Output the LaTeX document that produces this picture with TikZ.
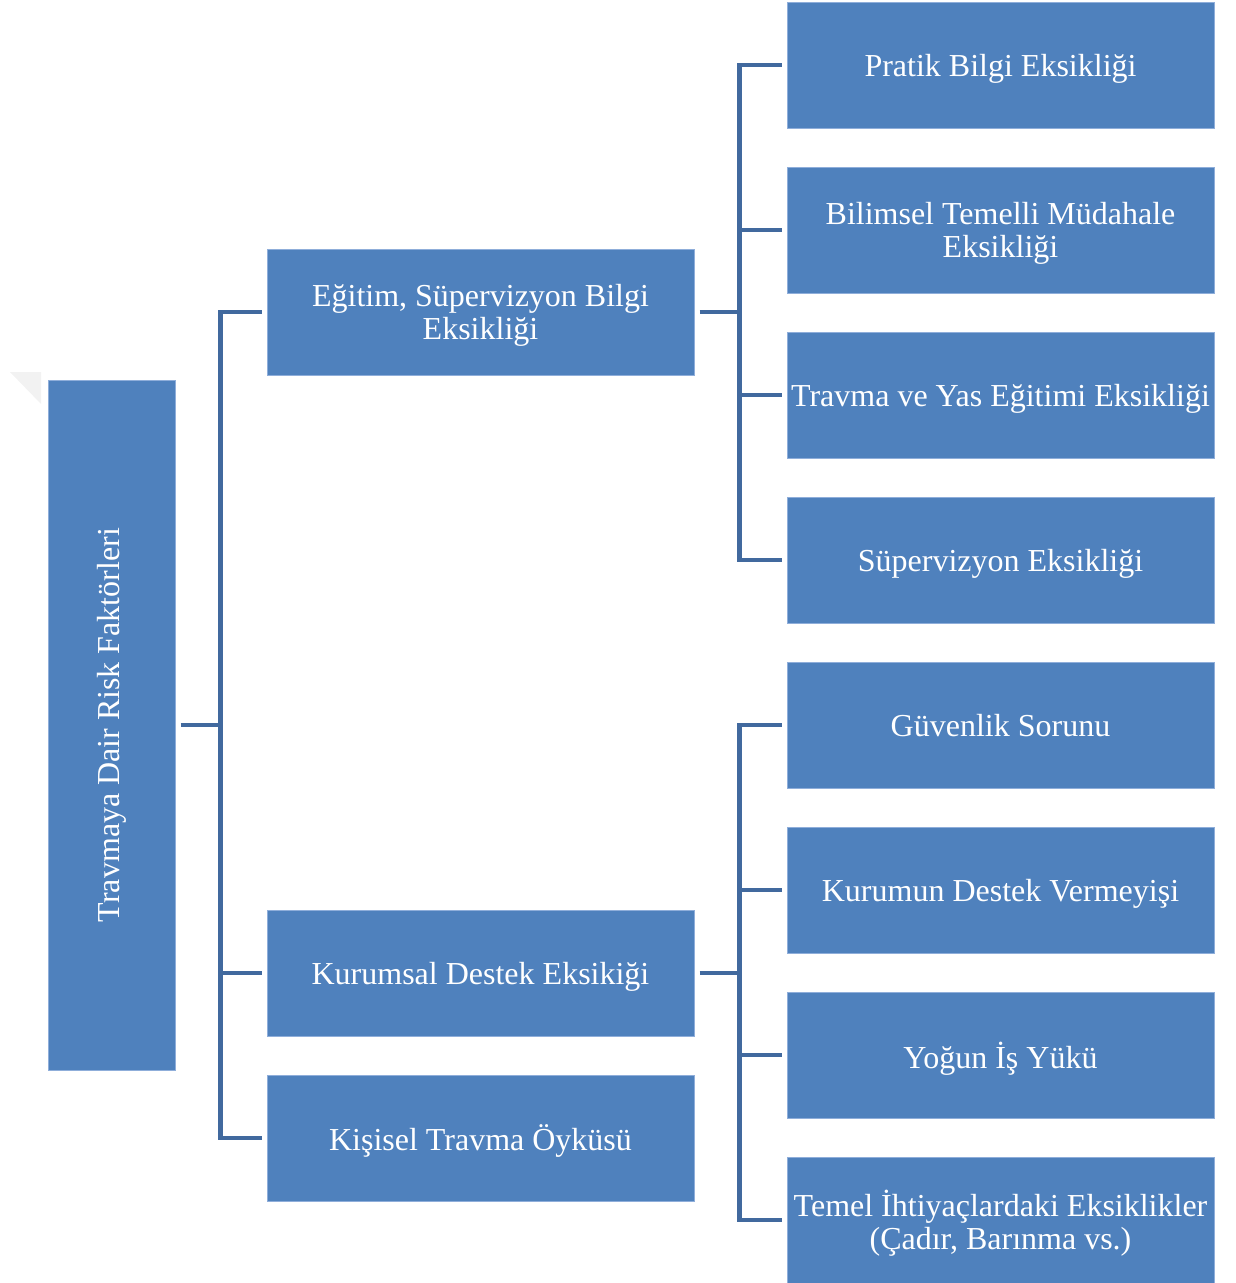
\documentclass[tikz,border=0pt]{standalone}
\usepackage{fontspec}
\setmainfont{Liberation Serif}
\usetikzlibrary{calc}
\definecolor{boxblue}{HTML}{4F81BD}
\definecolor{boxedge}{HTML}{8FAEDA}
\definecolor{linkblue}{HTML}{41699E}
\tikzset{
  box/.style={fill=boxblue, draw=boxedge, line width=1pt, inner sep=0pt, text=white, align=center,
    font=\fontsize{32}{32.5}\selectfont},
  lvone/.style={box, minimum width=427pt, minimum height=126pt, text depth=0pt},
  lvtwo/.style={box, minimum width=427pt, minimum height=126pt, text depth=0pt},
  conn/.style={draw=linkblue, line width=4.5pt, line join=miter}
}
\begin{document}
\begin{tikzpicture}[x=1pt,y=-1pt]
\useasboundingbox (0,0) rectangle (1235,1283);
% faint shadow artifact
\fill[black!5] (10,372) -- (41,372) -- (41,404) -- cycle;

\node[box, minimum width=127pt, minimum height=690pt] (root) at (111.5,725) {\rotatebox{90}{Travmaya Dair Risk Faktörleri}};

\node[lvone] (e1) at (480.5,312) {Eğitim, Süpervizyon Bilgi\\Eksikliği};
\node[lvone] (e2) at (480.5,973) {Kurumsal Destek Eksikiği};
\node[lvone] (e3) at (480.5,1138) {Kişisel Travma Öyküsü};

\node[lvtwo] (a1) at (1000.5,65) {Pratik Bilgi Eksikliği};
\node[lvtwo] (a2) at (1000.5,230) {Bilimsel Temelli Müdahale\\Eksikliği};
\node[lvtwo] (a3) at (1000.5,395) {Travma ve Yas Eğitimi Eksikliği};
\node[lvtwo] (a4) at (1000.5,560) {Süpervizyon Eksikliği};
\node[lvtwo] (b1) at (1000.5,725) {Güvenlik Sorunu};
\node[lvtwo] (b2) at (1000.5,890) {Kurumun Destek Vermeyişi};
\node[lvtwo] (b3) at (1000.5,1055) {Yoğun İş Yükü};
\node[lvtwo] (b4) at (1000.5,1220) {Temel İhtiyaçlardaki Eksiklikler\\(Çadır, Barınma vs.)};

% root connectors
\coordinate (j0) at ($(root.east)+(45,0)$);
\draw[conn] ([xshift=5pt]root.east) -- (j0);
\draw[conn] ([xshift=-5pt]e1.west) -| (j0) |- ([xshift=-5pt]e3.west);
\draw[conn] (j0 |- e2.west) -- ([xshift=-5pt]e2.west);

% group A
\coordinate (ja) at ($(e1.east)+(45,0)$);
\draw[conn] ([xshift=5pt]e1.east) -- (ja);
\draw[conn] ([xshift=-5pt]a1.west) -| (ja) |- ([xshift=-5pt]a4.west);
\draw[conn] (ja |- a2.west) -- ([xshift=-5pt]a2.west);
\draw[conn] (ja |- a3.west) -- ([xshift=-5pt]a3.west);

% group B
\coordinate (jb) at ($(e2.east)+(45,0)$);
\draw[conn] ([xshift=5pt]e2.east) -- (jb);
\draw[conn] ([xshift=-5pt]b1.west) -| (jb) |- ([xshift=-5pt]b4.west);
\draw[conn] (jb |- b2.west) -- ([xshift=-5pt]b2.west);
\draw[conn] (jb |- b3.west) -- ([xshift=-5pt]b3.west);
\end{tikzpicture}
\end{document}
